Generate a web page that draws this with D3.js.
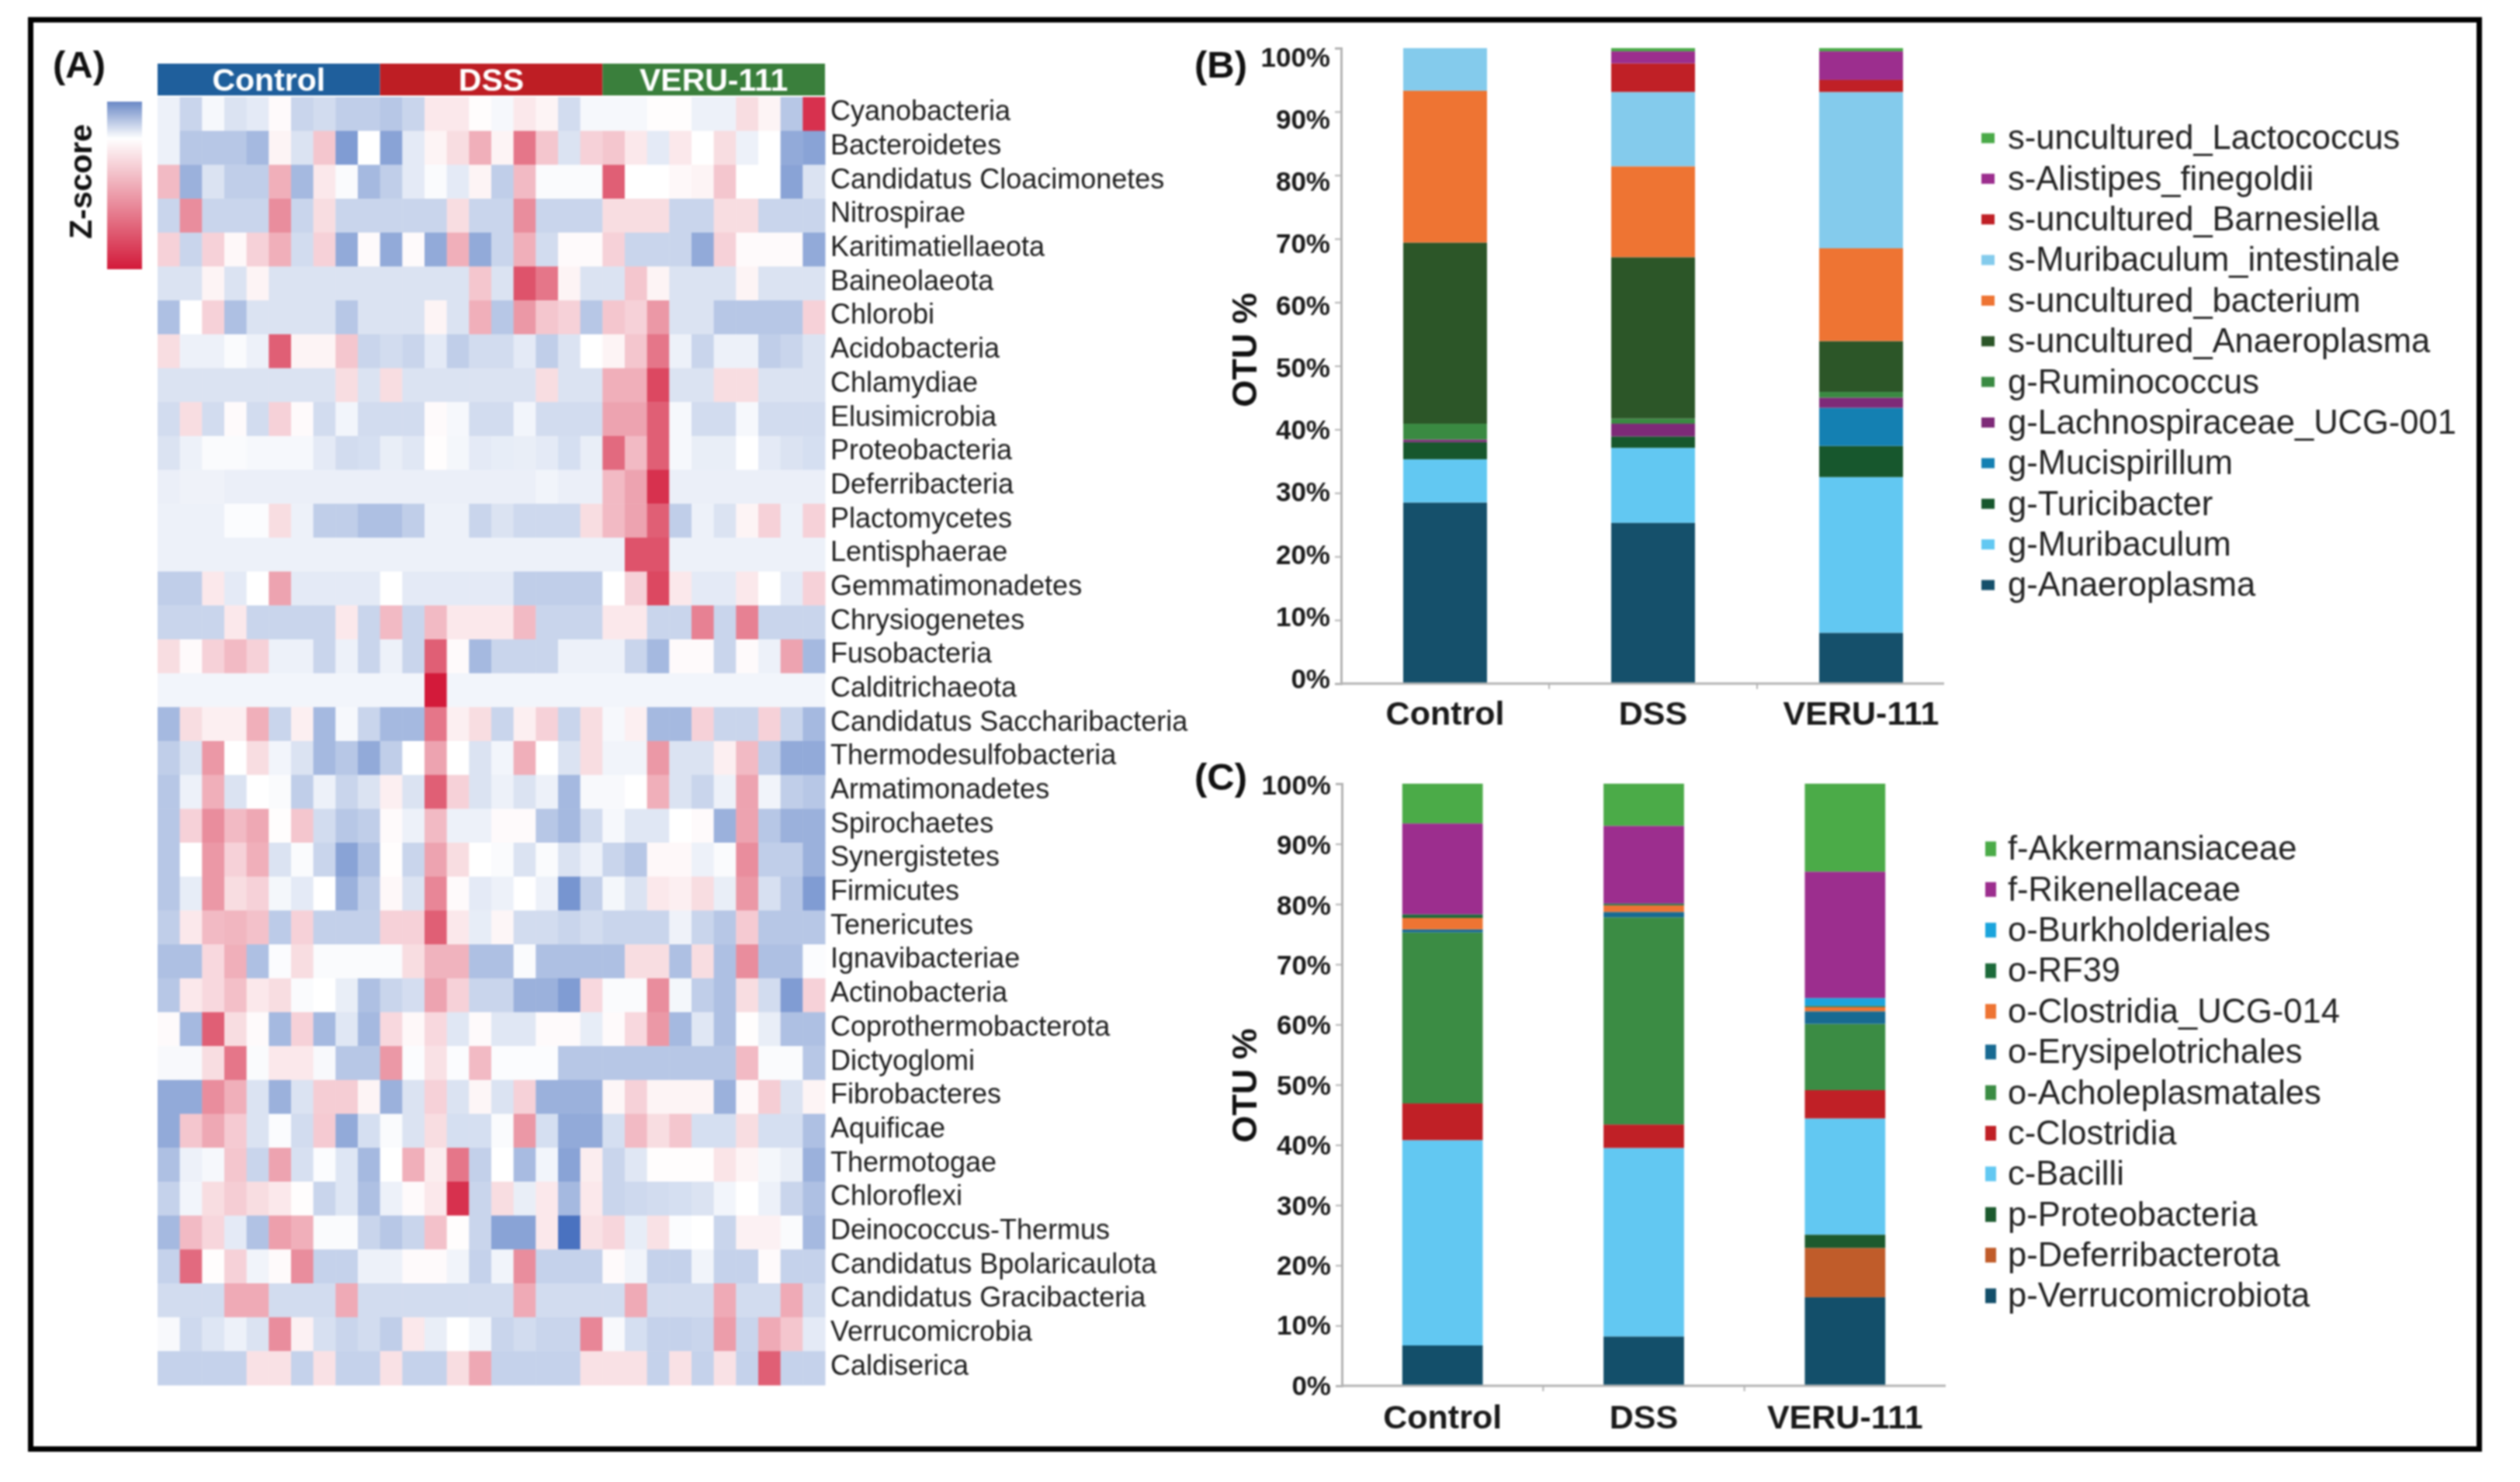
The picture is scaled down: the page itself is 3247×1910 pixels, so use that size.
<!DOCTYPE html>
<html>
<head>
<meta charset="utf-8">
<style>
  html, body { margin: 0; background: #fff; }
  svg { display: block; filter: blur(0.8px); }
  text { font-family: "Liberation Sans", Arial, sans-serif; }
</style>
<script src="https://cdn.jsdelivr.net/npm/d3@7"></script>
</head>
<body>
<div id="d3-root"></div>
<script>
// Panel A: phylum names and z values, one row per phylum, 30 samples per row
const phyla = ["Cyanobacteria","Bacteroidetes","Candidatus Cloacimonetes","Nitrospirae","Karitimatiellaeota","Baineolaeota","Chlorobi","Acidobacteria","Chlamydiae","Elusimicrobia","Proteobacteria","Deferribacteria","Plactomycetes","Lentisphaerae","Gemmatimonadetes","Chrysiogenetes","Fusobacteria","Calditrichaeota","Candidatus Saccharibacteria","Thermodesulfobacteria","Armatimonadetes","Spirochaetes","Synergistetes","Firmicutes","Tenericutes","Ignavibacteriae","Actinobacteria","Coprothermobacterota","Dictyoglomi","Fibrobacteres","Aquificae","Thermotogae","Chloroflexi","Deinococcus-Thermus","Candidatus Bpolaricaulota","Candidatus Gracibacteria","Verrucomicrobia","Caldiserica"];
const groups = ["Control", "DSS", "VERU-111"];
const groupCols = [10, 10, 10];
const zRows = [
  [-1,-3,-.5,-2,-1.5,.2,-3,-2.5,-3.5,-3.5,-4,-3,1,1,.1,-.5,1,.5,-2.5,-.5,-.5,-.5,.1,.1,-1,-1,1.5,.5,-4,9],
  [-1,-4,-4,-4,-5,.5,-2,2.5,-7,0,-6.5,-1.5,.5,1.5,3.5,.5,6,2.5,-2,2,2.5,1,-1.5,1,0,1.5,-1,0,-6,-6.5],
  [3,-5.5,-2,-3.5,-3.5,3.5,-5,1,-.3,-5,-3.5,-1.5,-.3,-1.5,.5,-3.5,3,-.3,-.3,-.3,7,0,0,.3,.5,2.5,0,0,-6.5,-2],
  [-3,5,-3,-3,-3,5,-3,1.5,-3,-3,-3,-3,-3,1.5,-3,-3,5,-3,-3,-3,1.5,1.5,1.5,-3,-3,1.5,1.5,-3,-3,-3],
  [2,-3,2,.3,2,3.5,-2.5,2,-6,.2,-6,.2,-6,3.5,-6,-3,3.5,-2.5,.2,.2,2,-3,-3,-3,-6,2,.2,.2,.2,-6],
  [-2,-2,.5,-2,.5,-2,-2,-2,-2,-2,-2,-2,-2,-2,2.5,-2,7.5,6,.5,-2,-2,2.5,.5,-2,-2,-2,.5,-2,-2,-2],
  [-4.5,0,2,-4.5,-2,-2,-2,-2,-4,-2,-2,-2,.5,-2,3.5,-4,4.5,2.5,2,-4,2.5,2,4.5,-2,-2,-4,-4,-4,-4,2],
  [1.5,-1,-1,-.3,-1,7,.5,.5,2.5,-3,-2.5,-3,-1.5,-3.5,-2.5,-2.5,-1.5,-3.5,-2,0,.5,2.5,6,-1,-3,-1,-1,-3.5,-3,-2],
  [-2,-2,-2,-2,-2,-2,-2,-2,1.5,-2,1.5,-2,-2,-2,-2,-2,-2,1.5,-2,-2,3.5,3.5,8,-2,-2,1.5,1.5,-2,-2,-2],
  [-2.5,1.5,-2.5,.2,-2.5,2,.2,-2.5,-.7,-2.5,-2.5,-2.5,.2,-.5,-2.5,-2.5,-.7,-2.5,-2.5,-2.5,4,4,7,-.5,-2.5,-2.5,-.5,-2.5,-2.5,-2.5],
  [-2,-1,-.3,-.3,-.5,-.5,-.5,-1.5,-2.5,-2.3,-1.2,-1.7,.1,-.6,-1.5,-1.3,-1.2,-1.5,-2.3,-1.2,6.5,3,7,-.5,-1.2,-1.2,0,-1.5,-2,-2.3],
  [-1.1,-.9,-.9,-1.1,-1.1,-1.1,-1.1,-1.1,-1.1,-1.1,-1.1,-1.1,-1.1,-1.1,-1.1,-1.1,-1.1,-.8,-1.1,-1.1,3,4,9,-1.1,-1.1,-1.1,-1.1,-1.1,-1.1,-1.1],
  [-1,-1,-1,-.2,-.2,1.5,-1,-3.5,-3.5,-4.5,-4.5,-3.5,-1,-1,-3,-2,-2.7,-2.7,-2.7,1.5,3,4,7,-3.5,-1,-2,.5,2,-1,2],
  [-1,-1,-1,-1,-1,-1,-1,-1,-1,-1,-1,-1,-1,-1,-1,-1,-1,-1,-1,-1,-1,7.5,7.5,-1,-1,-1,-1,-1,-1,-1],
  [-3.5,-3.5,1,-1.5,0,4,-1.5,-1.5,-1.5,-1.5,0,-1.5,-1.5,-1.5,-1.5,-1.5,-3.5,-3.5,-3.5,-3.5,0,2,8,1,-1.5,-1.5,1,0,-1.5,2],
  [-3,-3,-3,1,-3,-3,-3,-3,1,-3,3,-3,3,1,1,1,3,-3,-3,-3,1,1,-3,-3,5.5,-3,5.5,-3,-3,-3],
  [1.5,.2,2,3,2,-1,-1,-3,-1,-3,-1,-3,7,.2,-5,-3,-3,-3,-1,-1,-1,-3,-5,.2,.2,-3,.2,-1,4,-5],
  [-.7,-.7,-.7,-.7,-.7,-.7,-.7,-.7,-.7,-.7,-.7,-.7,10,-.7,-.7,-.7,-.7,-.7,-.7,-.7,-.7,-.7,-.7,-.7,-.7,-.7,-.7,-.7,-.7,-.7],
  [-5,1.5,.7,.7,3.5,-3,.7,-5,-.5,-3,-5,-5,6,.7,1.5,-3,.7,2,-3,1.5,-.5,.7,-5,-5,2,-3,-3,2,-3,-5],
  [-3.5,-2,4.5,0,1.5,-.7,-2,-5,-4,-6,-3.5,0,4,0,-2,-.7,3.5,0,-2,1.5,-.8,-.8,4.5,-2,-2,.7,3,-3.5,-6,-6],
  [-4,-1,3.5,-2,0,-.3,-3.5,-1,-3,-2,.7,-2,7,2,-2,-1,-2,-1,-5,-.4,-.4,0,3.5,-2,-3,-1,4,-.8,-3.5,-4],
  [-4,2,5,3,3.8,.1,2.5,-2.5,-4,-3.5,.2,-1,3,-1,-1,.2,.2,-4,-5,-2.5,-.5,-1.7,-1.7,0,.2,-5.5,4,-4,-5.5,-5.5],
  [-4,0,4.5,2,3.5,-2,-.3,-3,-6.5,-4.5,.1,-3,4,1.5,0,-.3,-2,-.3,-2,-1,-3,-4,.3,.3,-1,-.3,5,-3.5,-3.5,-5.5],
  [-4,-1.3,4.5,1.5,2,-.6,-1.5,0,-5.5,-3.5,.3,-2,5.3,.2,-1.5,-1,0,-1,-7.5,-3.3,-.6,-2,1,.7,1.5,-1.2,4.5,-2.2,-4,-7],
  [-3.5,1,3,3.2,2.7,-3.7,2,-3.3,-3.3,-3.3,2,2,7,1,-1.3,.4,-2.5,-2.5,-3,-2.5,-3,-3,-3,-.9,-3,-4,2.3,-4,-4,-4],
  [-4.5,-4.5,1.7,3.5,-4.5,-.2,1.5,-.3,-.3,-.3,-.3,1.5,3.3,3.3,-4.5,-4.5,-.3,-4.5,-4.5,-4.5,-4.5,1.5,1.5,-4.5,1.5,-4.5,5,-4.5,-4.5,-.2],
  [-4,1,1.7,2.8,1,1.5,-.3,0,-1.2,-4.5,-3,-2.4,4,2,-3,-3,-5.5,-5.5,-7,1.7,-.3,-.3,5,-.6,-3.5,-4.5,1.5,-2.5,-7,2],
  [.2,-5,7,1.5,.2,-5,2,-5,-1.7,-5,1.7,.3,1.7,-1.7,.2,-1.7,-1.7,.2,.2,-1.3,.2,1.7,4.5,-5,-1.7,-4.5,.1,-1.2,-4.5,-4.5],
  [-.4,-.4,1.5,6,-.3,1,1,-.4,-4,-4,4.5,-.2,1.3,-.2,3,-.2,-.2,-.2,-4,-4,-4,-4,-4,-4,-4,-4,3,-.3,-.3,-4],
  [-6,-6,5,3.5,-2,-5.5,-2,2.2,2.2,.5,-5.5,-2,2,-2,.4,-2,2,-5.5,-5.5,-5.5,.4,2,.5,.5,.5,-5.5,.3,2.2,-2,.5],
  [-6,2.5,3.8,2.3,-2,-.2,-2.5,2.3,-6,-2.3,-.3,-2,1.5,-2.3,-2.3,-.3,4.5,-2.3,-6,-6,-2.3,3,1.5,2.5,-2.3,-2.3,1.5,-2.3,-2.3,-4.5],
  [-4.5,-1,-.5,2.5,-3,4,-2.2,-.2,-1.8,-5,0,3.5,.8,6,-3.3,0,-4.8,-.7,-6.5,.8,-3,-1.7,.1,.1,.1,1.2,.5,-.6,-1.2,-5.5],
  [-3.2,-.7,1.5,2.2,1.5,1,.1,-3,-1.8,-4.5,-1,.2,1,9,-3,1.5,-1.2,1,-5,1,-3,-2.7,-2.5,-2.3,-2,-.7,0,-1,-3,-4.5],
  [-5,3,1.8,-1.5,-4.3,4.2,3.5,-.3,-.3,-3,-4,-3,2.7,.1,-3,-6.5,-6.5,1,-10,1.3,1.8,-1.3,1.3,-.2,0,-3,.6,.6,-.3,-5],
  [-3.2,6.5,.1,2,-.8,.2,5,-3.2,-3.2,-1,-1,.2,.2,-.8,-3.2,-.8,5,-3.2,-3.2,-3.2,.2,-.8,-3.2,-3.2,-.8,-3.2,-3.2,.2,-3.2,-3.2],
  [-2.5,-2.5,-2.5,3.7,3.7,-2.5,-2.5,-2.5,3.7,-2.5,-2.5,-2.5,-2.5,-2.5,-2.5,-2.5,3.7,-2.5,-2.5,-2.5,-2.5,3.7,-2.5,-2.5,-2.5,3.7,-2.5,-2.5,3.7,-2.5],
  [-.4,-2.7,-1.8,-1,-2,5,.6,-2.2,-3,-2.5,-3.5,1,-1.2,0,-.8,-3,-2.5,-3,-3,5.3,-.4,-2.3,-3.2,-3.2,-3,4.3,-3,3.7,2.5,-1.5],
  [-3.2,-3.2,-3.2,-3.2,1.3,1.3,-3.2,1.3,-3.2,-3.2,1.3,-3.2,-3.2,1.5,3.8,-3.2,-3.2,-3.2,-3.2,1.3,1.3,1.3,-3.2,1.3,-3.2,1.3,-3.2,7,-3.2,-3.2]
];
const zTicksDomain = [-10, 0, 10];

// Panels B and C: categories, then one value per taxon from the bottom of the stack up
const categories = ["Control", "DSS", "VERU-111"];
const yTicks = [0, 10, 20, 30, 40, 50, 60, 70, 80, 90, 100];

const taxaB = ["g-Anaeroplasma","g-Muribaculum","g-Turicibacter","g-Mucispirillum","g-Lachnospiraceae_UCG-001","g-Ruminococcus","s-uncultured_Anaeroplasma","s-uncultured_bacterium","s-Muribaculum_intestinale","s-uncultured_Barnesiella","s-Alistipes_finegoldii","s-uncultured_Lactococcus"];
const controlB = [28.5, 6.8, 2.7, 0, 0.4, 2.5, 28.5, 23.9, 6.7, 0, 0, 0];
const dssB = [25.3, 11.8, 1.8, 0, 2.0, 0.8, 25.4, 14.3, 11.7, 4.5, 1.9, 0.5];
const veruB = [8.0, 24.5, 4.9, 6.0, 1.6, 0.9, 8.0, 14.6, 24.6, 1.9, 4.5, 0.5];

const taxaC = ["p-Verrucomicrobiota","p-Deferribacterota","p-Proteobacteria","c-Bacilli","c-Clostridia","o-Acholeplasmatales","o-Erysipelotrichales","o-Clostridia_UCG-014","o-RF39","o-Burkholderiales","f-Rikenellaceae","f-Akkermansiaceae"];
const controlC = [6.7, 0, 0, 34.1, 6.1, 28.4, 0.5, 1.9, 0.6, 0, 15.1, 6.6];
const dssC = [8.2, 0, 0, 31.3, 3.9, 34.4, 0.9, 1.1, 0.3, 0, 12.9, 7.0];
const veruC = [14.7, 8.2, 2.2, 19.3, 4.7, 11.0, 2.1, 0.7, 0.2, 1.3, 21.0, 14.6];

const coloursB = ["#15506b","#62c8f2","#17572d","#1480b2","#7e2a78","#3a8a42","#2c5628","#ee7433","#84cbec","#c02026","#9c2e8e","#4aaa48"];
const coloursC = ["#134f6a","#c05c2a","#1c5a2e","#62c8f2","#c02026","#3b8c44","#186a92","#ee7433","#1c6a3a","#1ba4dc","#9c2e8e","#4bab48"];
const groupColours = ["#1f5f9c", "#be1e24", "#3a7f3c"];

const W = 3247, H = 1910;
const root = d3.select("#d3-root");
const svg = root.append("svg").attr("width", W).attr("height", H).attr("viewBox", `0 0 ${W} ${H}`);

svg.append("rect").attr("width", W).attr("height", H).attr("fill", "#fff");

// outer black frame
svg.append("rect")
  .attr("x", 39.5).attr("y", 25.5)
  .attr("width", 3155).attr("height", 1842)
  .attr("fill", "none").attr("stroke", "#000").attr("stroke-width", 7);

function panelLetter(txt, x, y) {
  svg.append("text").attr("x", x).attr("y", y)
    .attr("font-size", 49).attr("font-weight", 700).attr("fill", "#111")
    .text(txt);
}
panelLetter("(A)", 68, 100);
panelLetter("(B)", 1539, 100);
panelLetter("(C)", 1539, 1018);

// ---------- Panel A ----------
const sampleIdx = d3.range(zRows[0].length);
const heatX = d3.scaleBand().domain(sampleIdx).range([203, 1063]);
const heatY = d3.scaleBand().domain(phyla).range([125, 1785]);
const zColour = d3.scaleLinear().domain(zTicksDomain).range(["#4a72c0", "#ffffff", "#d31a3a"]).clamp(true);

const heat = svg.append("g");
zRows.forEach((row, r) => {
  heat.selectAll(null)
    .data(row)
    .join("rect")
    .attr("x", (d, c) => heatX(c))
    .attr("y", heatY(phyla[r]))
    .attr("width", heatX.bandwidth() + 0.5)
    .attr("height", heatY.bandwidth() + 0.5)
    .attr("fill", d => zColour(d));
});

svg.append("g")
  .attr("transform", "translate(1063,-3)")
  .call(d3.axisRight(heatY).tickSize(0).tickPadding(7))
  .call(g => g.select(".domain").remove())
  .call(g => g.selectAll("text")
    .attr("font-size", 36)
    .attr("font-family", '"Liberation Sans", Arial, sans-serif')
    .attr("fill", "#1c1c1c"));

// group header bars above the heat map
let colStart = 0;
groups.forEach((g, i) => {
  const x0 = heatX(colStart);
  const last = colStart + groupCols[i] - 1;
  const x1 = heatX(last) + heatX.bandwidth();
  svg.append("rect")
    .attr("x", x0).attr("y", 82)
    .attr("width", x1 - x0).attr("height", 41)
    .attr("fill", groupColours[i]);
  svg.append("text")
    .attr("x", (x0 + x1) / 2).attr("y", 117)
    .attr("text-anchor", "middle")
    .attr("font-size", 41).attr("font-weight", 700).attr("fill", "#fff")
    .text(g);
  colStart += groupCols[i];
});

// colour bar, white sits about a fifth of the way down
const grad = svg.append("defs").append("linearGradient")
  .attr("id", "zGrad").attr("x1", 0).attr("x2", 0).attr("y1", 0).attr("y2", 1);
grad.append("stop").attr("offset", "0%").attr("stop-color", "#6a88c6");
grad.append("stop").attr("offset", "22%").attr("stop-color", "#ffffff");
grad.append("stop").attr("offset", "100%").attr("stop-color", "#d31a3a");
svg.append("rect")
  .attr("x", 138).attr("y", 131).attr("width", 45).attr("height", 216)
  .attr("fill", "url(#zGrad)");
svg.append("text")
  .attr("transform", "translate(118,234) rotate(-90)")
  .attr("text-anchor", "middle")
  .attr("font-size", 41).attr("font-weight", 700)
  .attr("font-family", '"DejaVu Sans", sans-serif')
  .attr("fill", "#111")
  .text("Z-score");

// ---------- Panels B and C ----------
function drawStack(o) {
  const rows = categories.map((c, i) => {
    const row = { cat: c };
    o.taxa.forEach((t, j) => { row[t] = o.values[i][j]; });
    return row;
  });
  const stacked = d3.stack().keys(o.taxa)(rows);

  const x = d3.scaleBand().domain(categories)
    .range(o.xRange).paddingInner(o.padding).paddingOuter(o.padding / 2);
  const y = d3.scaleLinear().domain([0, 100]).range(o.yRange);
  // tick labels in panel B are spread a little differently from the ticks
  const yLabel = d3.scaleLinear().domain([0, 100]).range(o.labelRange);
  const fill = d3.scaleOrdinal().domain(o.taxa).range(o.colours);

  const g = svg.append("g");
  g.selectAll("g.layer")
    .data(stacked)
    .join("g")
    .attr("class", "layer")
    .attr("fill", d => fill(d.key))
    .selectAll("rect")
    .data(d => d)
    .join("rect")
    .attr("x", d => x(d.data.cat))
    .attr("y", d => y(d[1]))
    .attr("width", x.bandwidth())
    .attr("height", d => y(d[0]) - y(d[1]));

  const grey = "#b3b3b3";
  const yAxis = svg.append("g")
    .attr("transform", `translate(${o.xRange[0]},0)`)
    .call(d3.axisLeft(y).tickValues(yTicks).tickFormat(d => d + "%").tickSize(8).tickPadding(6));
  yAxis.select(".domain").attr("stroke", grey).attr("stroke-width", 3);
  yAxis.selectAll("line").attr("stroke", grey).attr("stroke-width", 2);
  yAxis.selectAll("text")
    .attr("y", d => yLabel(d) - y(d))
    .attr("font-size", 35).attr("font-weight", 700)
    .attr("font-family", '"Liberation Sans", Arial, sans-serif')
    .attr("fill", "#1a1a1a");

  const xAxis = svg.append("g")
    .attr("transform", `translate(0,${o.yRange[0]})`)
    .call(d3.axisBottom(x).tickSize(0).tickPadding(o.xPad));
  xAxis.select(".domain").remove();
  xAxis.selectAll("text")
    .attr("font-size", 43).attr("font-weight", 700)
    .attr("font-family", '"Liberation Sans", Arial, sans-serif')
    .attr("fill", "#1a1a1a");
  svg.append("line")
    .attr("x1", o.xRange[0]).attr("x2", o.axisEnd)
    .attr("y1", o.yRange[0]).attr("y2", o.yRange[0])
    .attr("stroke", grey).attr("stroke-width", 3);
  svg.selectAll(null)
    .data(categories.slice(1))
    .join("line")
    .attr("x1", d => x(d) - (x.step() - x.bandwidth()) / 2)
    .attr("x2", d => x(d) - (x.step() - x.bandwidth()) / 2)
    .attr("y1", o.yRange[0]).attr("y2", o.yRange[0] + 7)
    .attr("stroke", grey).attr("stroke-width", 2);

  svg.append("text")
    .attr("transform", `translate(${o.titleX},${o.titleY}) rotate(-90)`)
    .attr("text-anchor", "middle")
    .attr("font-size", 45).attr("font-weight", 700).attr("fill", "#111")
    .text("OTU %");

  // legend is listed top of stack first
  const legend = svg.append("g");
  const legendRows = o.taxa.slice().reverse();
  const ly = d3.scalePoint().domain(legendRows).range(o.legendY);
  legend.selectAll("rect")
    .data(legendRows)
    .join("rect")
    .attr("x", o.legendX)
    .attr("y", d => ly(d) - o.swatch[1] / 2)
    .attr("width", o.swatch[0])
    .attr("height", o.swatch[1])
    .attr("fill", d => fill(d));
  legend.selectAll("text")
    .data(legendRows)
    .join("text")
    .attr("x", 2587)
    .attr("y", d => ly(d))
    .attr("dy", "0.33em")
    .attr("font-size", o.legendFont)
    .attr("fill", "#222")
    .text(d => d);
}

drawStack({
  taxa: taxaB,
  values: [controlB, dssB, veruB],
  colours: coloursB,
  xRange: [1728, 2532],
  axisEnd: 2505,
  padding: 0.597,
  yRange: [881, 62],
  labelRange: [875, 74],
  xPad: 22,
  titleX: 1619,
  titleY: 451,
  legendX: 2553,
  legendY: [178, 754],
  swatch: [17, 13],
  legendFont: 43.5
});

drawStack({
  taxa: taxaC,
  values: [controlC, dssC, veruC],
  colours: coloursC,
  xRange: [1729, 2507],
  axisEnd: 2507,
  padding: 0.6,
  yRange: [1786, 1010],
  labelRange: [1786, 1012],
  xPad: 24,
  titleX: 1619,
  titleY: 1399,
  legendX: 2558,
  legendY: [1094, 1670],
  swatch: [14, 19],
  legendFont: 43.5
});
</script>
</body>
</html>
